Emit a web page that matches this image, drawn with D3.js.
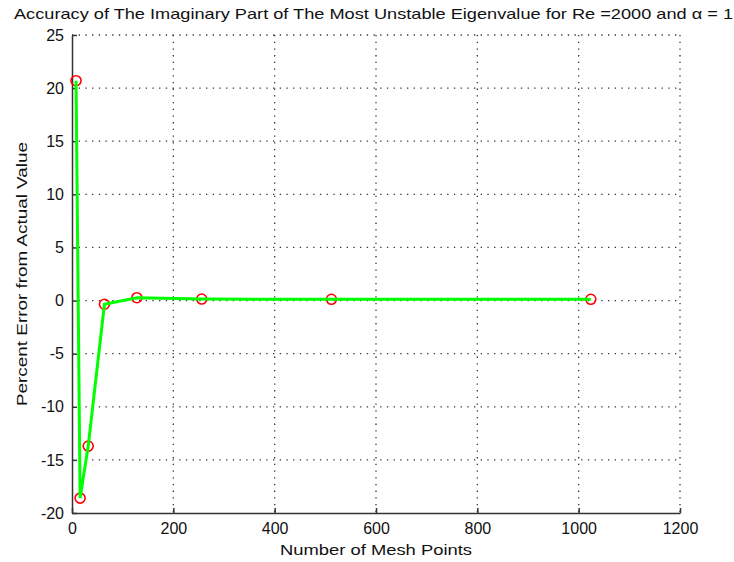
<!DOCTYPE html>
<html lang="en">
    <head>
        <meta charset="utf-8">
        <title>Imaginary Part Accuracy</title>
        <script src="https://d3js.org/d3.v7.min.js"></script>
        <style type="text/css">
            body {
                margin: 0;
                background: white;
            }
            text {
                font-family: "Liberation Sans", Arial, sans-serif;
                fill: #111;
            }
            .axis path,
            .axis line {
                stroke: #333;
                stroke-width: 1.5px;
            }
            .axis text {
                font-size: 16px;
                fill: #111;
            }
            .grid line {
                stroke: #333;
                stroke-width: 1.3px;
                stroke-dasharray: 1.3, 5.4;
            }
            .line {
                fill: none;
                stroke: #00ff00;
                stroke-width: 3px;
            }
            .dot {
                fill: none;
                stroke: #ff0000;
                stroke-width: 1.6px;
            }
        </style>
    </head>

    <body>
        <script type="text/javascript">
            // data
            const meshPoints = [8, 16, 32, 64, 128, 256, 512, 1024];
            const percentError = [20.7, -18.6, -13.7, -0.35, 0.27, 0.14, 0.12, 0.12];
            const xTicks = [0, 200, 400, 600, 800, 1000, 1200];
            const yTicks = [-20, -15, -10, -5, 0, 5, 10, 15, 20, 25];

            const w = 734;
            const h = 562;
            const plotLeft = 72, plotRight = 680, plotTop = 35, plotBottom = 513;

            const data = meshPoints.map((n, i) => ({n: n, err: percentError[i]}));

            const xScale = d3.scaleLinear()
                             .domain([0, 1200])
                             .range([plotLeft, plotRight]);

            const yScale = d3.scaleLinear()
                             .domain([-20, 25])
                             .range([plotBottom, plotTop]);

            const svg = d3.select("body")
                          .append("svg")
                          .attr("width", w)
                          .attr("height", h);

            // dotted grid
            svg.append("g")
               .attr("class", "grid")
               .selectAll("line")
               .data(xTicks.filter(d => d > 0))
               .join("line")
               .attr("x1", d => xScale(d))
               .attr("x2", d => xScale(d))
               .attr("y1", plotTop)
               .attr("y2", plotBottom);

            svg.append("g")
               .attr("class", "grid")
               .selectAll("line")
               .data(yTicks.filter(d => d > -20))
               .join("line")
               .attr("x1", plotLeft)
               .attr("x2", plotRight)
               .attr("y1", d => yScale(d))
               .attr("y2", d => yScale(d));

            // axes, ticks pointing inward, plain hyphen minus
            const bottomAxis = d3.axisBottom(xScale)
                                 .tickValues(xTicks)
                                 .tickFormat(d => String(d))
                                 .tickSizeInner(-5)
                                 .tickSizeOuter(0)
                                 .tickPadding(10);

            svg.append("g")
               .attr("class", "axis")
               .attr("transform", "translate(0," + plotBottom + ")")
               .call(bottomAxis);

            const leftAxis = d3.axisLeft(yScale)
                               .tickValues(yTicks)
                               .tickFormat(d => String(d))
                               .tickSizeInner(-5)
                               .tickSizeOuter(0)
                               .tickPadding(8);

            svg.append("g")
               .attr("class", "axis")
               .attr("transform", "translate(" + plotLeft + ",0)")
               .call(leftAxis);

            svg.selectAll(".axis text").attr("font-family", null);

            // markers then line
            svg.append("g")
               .selectAll("circle")
               .data(data)
               .join("circle")
               .attr("class", "dot")
               .attr("cx", d => xScale(d.n))
               .attr("cy", d => yScale(d.err))
               .attr("r", 5);

            const line = d3.line()
                           .x(d => xScale(d.n))
                           .y(d => yScale(d.err));

            svg.append("path")
               .datum(data)
               .attr("class", "line")
               .attr("d", line);

            // labels
            svg.append("text")
               .attr("x", 14)
               .attr("y", 19)
               .attr("textLength", 719)
               .attr("lengthAdjust", "spacingAndGlyphs")
               .style("font-size", "15px")
               .text("Accuracy of The Imaginary Part of The Most Unstable Eigenvalue for Re =2000 and α = 1");

            svg.append("text")
               .attr("x", (plotLeft + plotRight) / 2)
               .attr("y", 555)
               .attr("text-anchor", "middle")
               .attr("textLength", 192)
               .attr("lengthAdjust", "spacingAndGlyphs")
               .style("font-size", "15px")
               .text("Number of Mesh Points");

            svg.append("text")
               .attr("transform", "translate(27," + ((plotTop + plotBottom) / 2) + ") rotate(-90)")
               .attr("text-anchor", "middle")
               .attr("textLength", 264)
               .attr("lengthAdjust", "spacingAndGlyphs")
               .style("font-size", "15px")
               .text("Percent Error from Actual Value");
        </script>
    </body>
</html>
